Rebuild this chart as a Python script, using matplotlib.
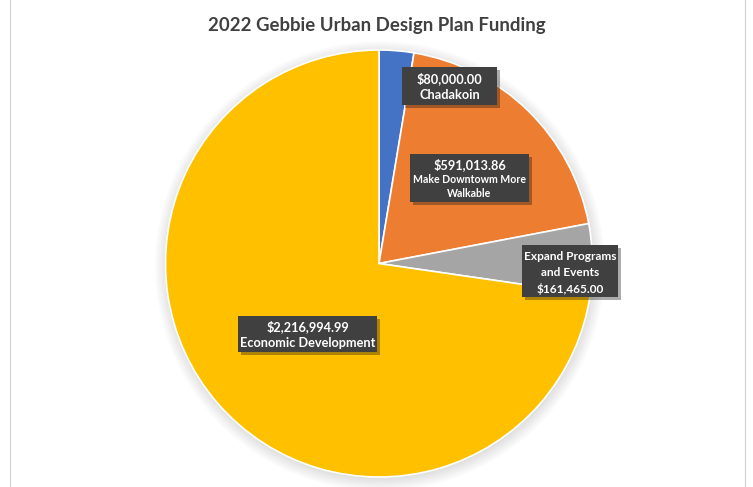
import matplotlib
matplotlib.use('Agg')
import matplotlib.pyplot as plt
import matplotlib.patheffects as pe
from matplotlib.patches import Circle, Rectangle

# データ
categories = ['Chadakoin', 'Make Downtowm More\nWalkable', 'Expand Programs\nand Events', 'Economic Development']
values = [80000.00, 591013.86, 161465.00, 2216994.99]
colors = ['#4472C4', '#ED7D31', '#A5A5A5', '#FFC000']

plt.rcParams['font.family'] = ['Lato', 'DejaVu Sans']

W, H = 753, 487
CX, CY, R = 379, 263.5, 213.5

fig = plt.figure(figsize=(W / 100, H / 100), dpi=100)
fig.patches.append(Rectangle((10 / W, -0.05), 735 / W, 1.1, transform=fig.transFigure,
                             fill=False, ec='#D0D0D0', lw=0.8))

ax = fig.add_axes([(CX - R) / W, (H - CY - R) / H, 2 * R / W, 2 * R / H])
ax.axis('off')

# 影
for i in range(10):
    ax.add_patch(Circle((0.004, -0.012), 1.0 + i * 0.006, fc='black', alpha=0.012, ec='none',
                        zorder=0, clip_on=False))

wedges, _ = ax.pie(values, colors=colors, startangle=90, counterclock=False, radius=1.0,
                   wedgeprops=dict(edgecolor='white', linewidth=1.2))
for w in wedges:
    w.set_zorder(2)
ax.set_xlim(-1, 1)
ax.set_ylim(-1, 1)

fig.text(0.5, 1 - 25 / H, '2022 Gebbie Urban Design Plan Funding', ha='center', va='center',
         fontsize=13.4, fontweight='bold', color='#404040')

def money(v):
    return '${:,.2f}'.format(v)

# ピクセル座標 -> データ座標
def px(x, y):
    return (x - CX) / R, (CY - y) / R

# (箱の範囲 x0, x1, y0, y1), [(行, y, 文字サイズ)]
boxes = [
    ((402, 497, 67, 105), [(money(values[0]), 79, 9.2), (categories[0], 95, 9.2)]),
    ((410, 529, 154, 202), [(money(values[1]), 165, 9.2)] +
     [(s, y, 7.6) for s, y in zip(categories[1].split('\n'), [179, 193])]),
    ((522, 618, 245, 297), [(s, y, 8.6) for s, y in zip(categories[2].split('\n'), [256, 273])] +
     [(money(values[2]), 289, 8.6)]),
    ((238, 377, 316, 352), [(money(values[3]), 327, 9.2), (categories[3], 343, 9.2)]),
]

for (x0, x1, y0, y1), lines in boxes:
    ax_, ay_ = px(x0, y1)
    bx_, by_ = px(x1, y0)
    rect = Rectangle((ax_, ay_), bx_ - ax_, by_ - ay_, fc='#404040', ec='none', zorder=4,
                     clip_on=False)
    rect.set_path_effects([pe.withSimplePatchShadow(offset=(2, -2), alpha=0.35)])
    ax.add_patch(rect)
    xc = (x0 + x1) / 2
    for s, y, fs in lines:
        tx, ty = px(xc, y)
        ax.text(tx, ty, s, ha='center', va='center', color='white', fontweight='bold',
                fontsize=fs, zorder=5, clip_on=False)

fig.savefig('out.png', dpi=100)
